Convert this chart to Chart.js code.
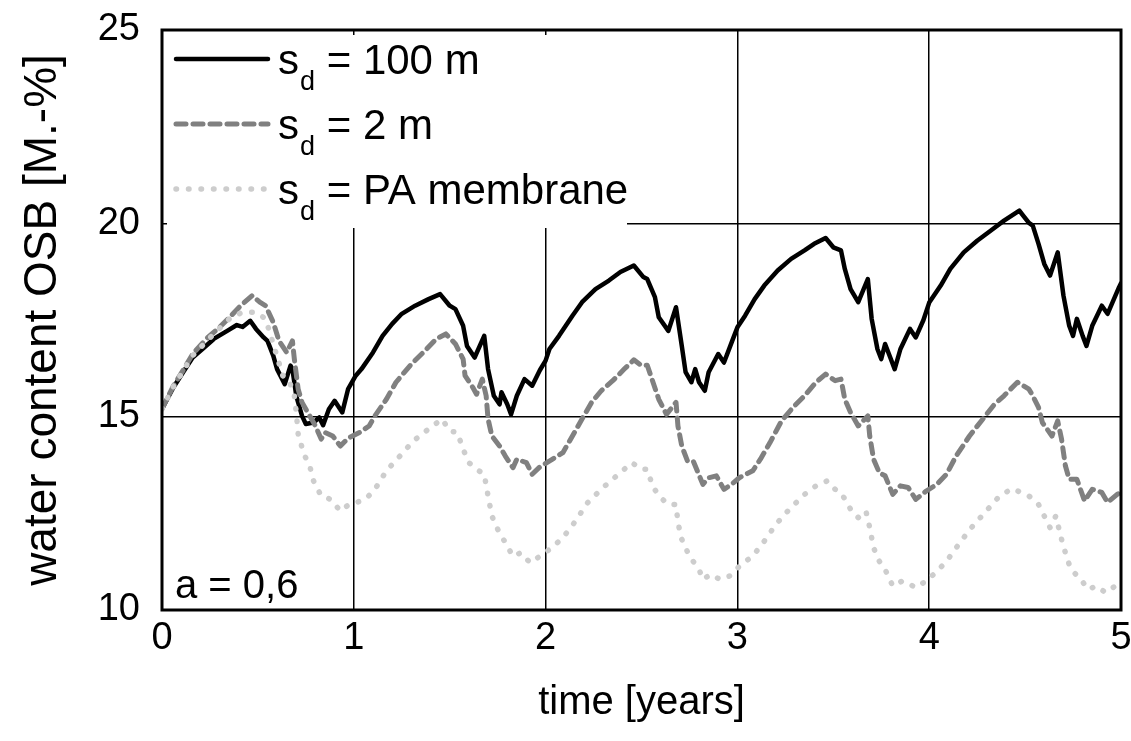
<!DOCTYPE html>
<html>
<head>
<meta charset="utf-8">
<script src="https://cdn.jsdelivr.net/npm/chart.js@4.4.0/dist/chart.umd.min.js"></script>
<style>
  html, body { margin: 0; padding: 0; background: #fff; }
</style>
</head>
<body>
<canvas id="myChart" width="1131" height="741"></canvas>
<script>
// time [years] and water content [M.-%]
const t100 = [0.00,0.06,0.11,0.16,0.22,0.27,0.34,0.39,0.42,0.46,0.49,0.53,0.55,0.58,0.60,0.64,0.67,0.68,0.70,0.73,0.75,0.79,0.82,0.84,0.87,0.90,0.94,0.97,
  1.01,1.04,1.10,1.15,1.20,1.25,1.32,1.39,1.45,1.50,1.53,1.57,1.59,1.63,1.68,1.70,1.73,1.76,1.77,1.80,1.82,1.85,1.89,1.93,1.97,
  2.00,2.02,2.07,2.14,2.19,2.26,2.33,2.39,2.46,2.51,2.53,2.57,2.59,2.64,2.68,2.71,2.73,2.76,2.78,2.80,2.83,2.85,2.90,2.93,2.97,
  3.00,3.04,3.09,3.14,3.21,3.28,3.35,3.40,3.46,3.50,3.54,3.56,3.59,3.63,3.68,3.70,3.73,3.75,3.77,3.80,3.82,3.85,3.90,3.93,3.97,
  4.00,4.06,4.11,4.18,4.25,4.32,4.39,4.47,4.49,4.52,4.54,4.57,4.60,4.63,4.67,4.70,4.73,4.75,4.77,4.80,4.82,4.85,4.90,4.93,4.99,5.00];
const w100 = [15.20,15.76,16.15,16.53,16.79,17.01,17.22,17.37,17.32,17.48,17.27,17.05,16.96,16.58,16.23,15.84,16.32,16.23,15.54,15.02,14.81,14.85,14.98,14.78,15.19,15.41,15.11,15.71,
  16.06,16.23,16.66,17.09,17.40,17.66,17.87,18.04,18.17,17.87,17.78,17.35,16.83,16.53,17.09,16.23,15.54,15.32,15.63,15.32,15.06,15.54,15.97,15.80,16.20,
  16.45,16.75,17.09,17.61,17.96,18.30,18.52,18.74,18.91,18.61,18.56,18.09,17.57,17.22,17.83,16.83,16.15,15.89,16.23,15.89,15.67,16.15,16.62,16.40,16.92,
  17.31,17.61,18.04,18.39,18.78,19.08,19.30,19.47,19.62,19.38,19.30,18.82,18.30,17.96,18.56,17.53,16.75,16.49,16.88,16.49,16.23,16.75,17.27,17.05,17.50,
  17.95,18.39,18.82,19.25,19.55,19.81,20.07,20.33,20.20,20.01,19.94,19.47,18.95,18.65,19.25,18.13,17.35,17.09,17.53,17.09,16.83,17.35,17.87,17.66,18.35,18.45];

const t2 = [0.00,0.06,0.11,0.16,0.23,0.30,0.36,0.41,0.47,0.51,0.54,0.58,0.61,0.65,0.68,0.69,0.71,0.73,0.77,0.80,0.83,0.85,0.89,0.93,0.97,
  1.03,1.08,1.11,1.17,1.22,1.30,1.37,1.43,1.48,1.53,1.57,1.58,1.62,1.64,1.67,1.69,1.70,1.72,1.76,1.79,1.83,1.85,1.90,1.93,1.97,
  2.03,2.09,2.14,2.19,2.24,2.29,2.35,2.41,2.46,2.50,2.53,2.56,2.59,2.63,2.68,2.69,2.71,2.74,2.77,2.82,2.85,2.89,2.93,2.97,
  3.01,3.08,3.12,3.17,3.23,3.29,3.35,3.41,3.46,3.51,3.54,3.56,3.59,3.63,3.68,3.69,3.71,3.74,3.77,3.81,3.85,3.89,3.93,3.98,
  4.04,4.09,4.14,4.21,4.28,4.34,4.39,4.46,4.52,4.54,4.57,4.59,4.64,4.67,4.69,4.71,4.73,4.77,4.81,4.85,4.90,4.93,4.98,5.00];
const w2 = [15.20,15.80,16.20,16.62,17.01,17.31,17.61,17.87,18.13,17.96,17.87,17.44,16.96,16.66,16.96,16.49,15.71,15.37,15.02,14.76,14.42,14.59,14.50,14.24,14.44,
  14.59,14.76,15.02,15.45,15.89,16.36,16.70,17.01,17.14,16.88,16.49,16.06,15.76,15.58,15.97,15.54,14.94,14.50,14.24,13.98,13.68,13.90,13.81,13.51,13.70,
  13.88,14.07,14.50,14.94,15.37,15.67,15.93,16.23,16.47,16.32,16.33,15.89,15.45,15.06,15.37,14.76,14.24,13.85,13.85,13.25,13.42,13.47,13.12,13.25,
  13.42,13.60,13.90,14.33,14.89,15.24,15.54,15.89,16.10,15.93,15.97,15.45,15.11,14.76,15.02,14.50,13.90,13.55,13.47,12.99,13.21,13.17,12.86,13.06,
  13.25,13.51,13.98,14.50,14.94,15.32,15.54,15.89,15.71,15.54,15.24,14.85,14.50,14.89,14.42,13.73,13.38,13.38,12.82,13.12,13.04,12.78,12.99,13.05];

const tPA = [0.00,0.06,0.11,0.16,0.26,0.36,0.42,0.49,0.54,0.58,0.63,0.66,0.69,0.70,0.71,0.74,0.77,0.79,0.83,0.88,0.93,0.97,
  1.06,1.11,1.17,1.24,1.31,1.39,1.46,1.50,1.54,1.57,1.60,1.64,1.68,1.70,1.72,1.75,1.79,1.83,1.87,1.92,1.97,
  2.03,2.09,2.15,2.22,2.30,2.38,2.45,2.50,2.53,2.56,2.61,2.64,2.68,2.69,2.71,2.75,2.80,2.82,2.86,2.91,2.96,
  3.02,3.08,3.14,3.20,3.27,3.35,3.42,3.47,3.51,3.54,3.57,3.60,3.63,3.67,3.69,3.71,3.74,3.77,3.81,3.86,3.90,3.93,3.99,
  4.04,4.09,4.16,4.22,4.29,4.36,4.43,4.48,4.52,4.57,4.60,4.63,4.66,4.69,4.72,4.74,4.79,4.83,4.87,4.92,4.97,5.00];
const wPA = [15.20,15.78,16.18,16.58,17.09,17.57,17.70,17.70,17.53,16.88,16.06,15.97,15.54,15.11,14.55,14.03,13.73,13.34,12.95,12.86,12.56,12.71,
  12.86,13.12,13.60,13.98,14.37,14.68,14.94,14.63,14.59,14.16,13.81,13.64,13.51,12.95,12.43,12.09,11.74,11.39,11.48,11.22,11.39,
  11.60,11.87,12.26,12.78,13.17,13.51,13.81,13.64,13.64,13.17,12.86,12.73,12.73,12.26,11.83,11.39,11.05,10.79,10.92,10.79,10.88,
  11.18,11.39,11.78,12.21,12.60,12.99,13.25,13.34,13.12,13.04,12.78,12.52,12.39,12.56,12.13,11.61,11.26,11.05,10.62,10.75,10.66,10.58,10.77,
  11.00,11.26,11.74,12.13,12.52,12.91,13.14,13.04,12.95,12.73,12.43,12.13,12.43,11.83,11.31,11.05,10.79,10.53,10.62,10.45,10.62,10.65];

const seriesNames = ['100 m', '2 m', 'PA membrane'];
const xTicks = [0, 1, 2, 3, 4, 5];
const yTicks = [10, 15, 20, 25];

const FONT = '"Liberation Sans", Arial, sans-serif';

function toPoints(xs, ys) {
    return xs.map((x, i) => ({ x: x, y: ys[i] }));
}

const datasets = [
    { label: seriesNames[0], data: toPoints(t100, w100), borderColor: '#000000', borderWidth: 4.5, borderDash: [] },
    { label: seriesNames[1], data: toPoints(t2, w2), borderColor: '#808080', borderWidth: 5, borderDash: [10, 7] },
    { label: seriesNames[2], data: toPoints(tPA, wPA), borderColor: '#cdcdcd', borderWidth: 5.5, borderDash: [0.5, 12] }
];
datasets.forEach(d => {
    d.pointRadius = 0;
    d.tension = 0;
    d.fill = false;
    d.borderCapStyle = 'round';
    d.borderJoinStyle = 'round';
});
// draw the light one first so darker lines stay on top
datasets.reverse();
datasets.forEach((d, i) => d.order = i);

// white legend box over the grid, with subscript labels
const legendBox = {
    id: 'legendBox',
    beforeDatasetsDraw(chart) {
        const ctx = chart.ctx;
        const a = chart.chartArea;
        ctx.save();
        ctx.fillStyle = '#ffffff';
        ctx.fillRect(a.left + 5, a.top + 5, 627 - a.left - 5, 228 - a.top - 5);

        const order = [2, 1, 0]; // datasets were reversed
        order.forEach((di, row) => {
            const ds = chart.data.datasets[di];
            const yc = a.top + 29 + row * 65;
            ctx.strokeStyle = ds.borderColor;
            ctx.lineWidth = ds.borderWidth;
            ctx.lineCap = 'round';
            ctx.setLineDash(ds.borderDash);
            ctx.beginPath();
            ctx.moveTo(a.left + 14, yc);
            ctx.lineTo(a.left + 106, yc);
            ctx.stroke();
            ctx.setLineDash([]);

            ctx.fillStyle = '#000';
            ctx.textBaseline = 'alphabetic';
            let x = 278;
            const base = yc + 15;
            ctx.font = '42px ' + FONT;
            ctx.fillText('s', x, base);
            x += ctx.measureText('s').width + 1;
            ctx.font = '27px ' + FONT;
            ctx.fillText('d', x, base + 16);
            x += ctx.measureText('d').width;
            ctx.font = '42px ' + FONT;
            ctx.fillText(' = ' + ds.label, x, base);
        });

        ctx.font = '40px ' + FONT;
        ctx.fillText('a = 0,6', a.left + 13, 598);
        ctx.restore();
    },
    afterDraw(chart) {
        const ctx = chart.ctx;
        const a = chart.chartArea;
        ctx.save();
        ctx.strokeStyle = '#000';
        ctx.lineWidth = 3;
        ctx.strokeRect(a.left, a.top, a.right - a.left, a.bottom - a.top);
        ctx.restore();
    }
};

const ctx = document.getElementById('myChart').getContext('2d');
const myChart = new Chart(ctx, {
    type: 'line',
    data: { datasets: datasets },
    options: {
        responsive: false,
        animation: false,
        devicePixelRatio: 1,
        layout: { padding: { top: 30, right: 10, left: 0, bottom: 0 } },
        plugins: {
            legend: { display: false },
            tooltip: { enabled: false }
        },
        scales: {
            x: {
                type: 'linear',
                min: 0,
                max: 5,
                afterBuildTicks: s => { s.ticks = xTicks.map(v => ({ value: v })); },
                afterFit: s => { s.height = 131; s.paddingLeft = 0; s.paddingRight = 0; },
                grid: { color: '#000', lineWidth: 1.5, drawTicks: false },
                border: { display: false },
                ticks: { color: '#000', font: { family: FONT, size: 38 }, padding: 6, maxRotation: 0 },
                title: { display: true, text: 'time [years]', color: '#000', font: { family: FONT, size: 40 }, padding: { top: 0, bottom: 14 } }
            },
            y: {
                min: 10,
                max: 25,
                afterBuildTicks: s => { s.ticks = yTicks.map(v => ({ value: v })); },
                afterFit: s => { s.width = 162; s.paddingTop = 0; s.paddingBottom = 0; },
                grid: { color: '#000', lineWidth: 1.5, drawTicks: false },
                border: { display: false },
                ticks: { color: '#000', font: { family: FONT, size: 38 }, padding: 22 },
                title: { display: true, text: 'water content OSB [M.-%]', color: '#000', font: { family: FONT, size: 46 }, padding: { top: 16, bottom: 0 } }
            }
        }
    },
    plugins: [legendBox]
});
</script>
</body>
</html>
